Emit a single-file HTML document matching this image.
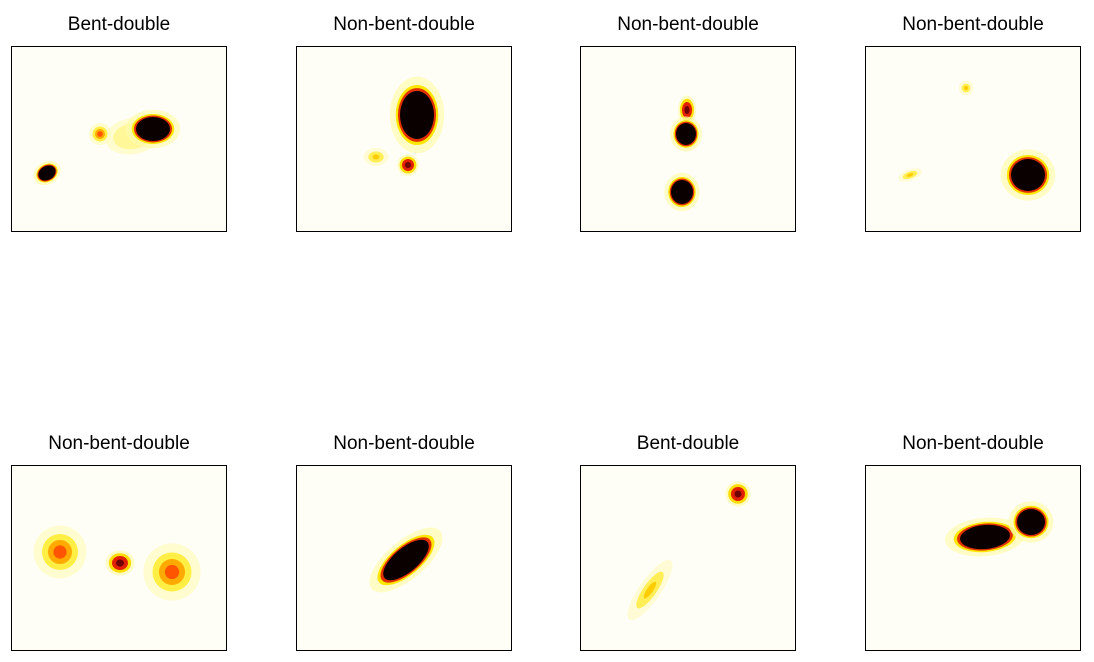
<!DOCTYPE html>
<html><head><meta charset="utf-8"><style>
body{margin:0;background:#fff;width:1094px;height:662px;overflow:hidden}
svg{display:block}
text{font-family:"Liberation Sans",sans-serif;font-size:19px;fill:#000}
</style></head><body>
<svg id="fig" width="1094" height="662"></svg>
<script>
const titles=["Bent-double","Non-bent-double","Non-bent-double","Non-bent-double","Non-bent-double","Non-bent-double","Bent-double","Non-bent-double"];
const panelX=[11,296,580,865,11,296,580,865];
const panelY=[46,46,46,46,465,465,465,465];
// blobs per panel: [cx, cy, rx, ry, rotation, level]
const blobs=[
 [[122,90,20,13,-10,"halo"],[142,83,17,12,0,"core"],[36,127,9,7,-30,"core"],[89,88,5,5,0,"orange"]],
 [[121,69,17,24,0,"core"],[112,119,6,6,0,"red"],[80,111,7,5,0,"yellow"]],
 [[107,64,5,8,0,"red"],[106,88,10,11,0,"core"],[102,146,11,12,0,"core"]],
 [[163,129,17,16,0,"core"],[101,42,4,4,0,"yellow"],[45,129,7,3,-20,"yellow"]],
 [[49,87,12,12,0,"orange"],[109,98,8,7,0,"red"],[161,107,13,13,0,"orange"]],
 [[110,95,28,12,-40,"core"]],
 [[158,29,7,7,0,"red"],[70,125,6,20,35,"yellow"]],
 [[120,72,25,12,-5,"core"],[166,57,14,13,0,"core"]]
];
const PW=216,PH=186;
const ns="http://www.w3.org/2000/svg";
const svg=document.getElementById('fig');
const levels={
 core:[[1.6,"#fffbb0",0.7],[1.25,"#ffe600",1],[1.12,"#e03000",1],[1.0,"#0a0000",1]],
 red:[[1.8,"#fffbb0",0.7],[1.4,"#ffdd00",1],[1.0,"#e02000",1],[0.5,"#700000",1]],
 orange:[[2.2,"#fffbc0",0.7],[1.5,"#ffee44",1],[1.0,"#ffaa00",1],[0.55,"#ff5500",1]],
 yellow:[[1.8,"#fffbc8",0.7],[1.1,"#ffee55",1],[0.5,"#ffcc00",1]],
 halo:[[1.4,"#fffcc0",0.7],[1.0,"#fff380",0.7]]
};
for(let i=0;i<8;i++){
 const g=document.createElementNS(ns,'g');
 
 
 g.setAttribute('transform',`translate(${panelX[i]},${panelY[i]})`);
 const cp=document.createElementNS(ns,'clipPath');cp.id='c'+i;
 const cr=document.createElementNS(ns,'rect');cr.setAttribute('width',PW);cr.setAttribute('height',PH);cp.appendChild(cr);g.appendChild(cp);
 const bg=document.createElementNS(ns,'rect');
 
 
 bg.setAttribute('width',PW);bg.setAttribute('height',PH);bg.setAttribute('fill','#fffef6');g.appendChild(bg);
 const inner=document.createElementNS(ns,'g');inner.setAttribute('clip-path',`url(#c${i})`);
 blobs[i].forEach(b=>{
  const [cx,cy,rx,ry,rot,lv]=b;
  levels[lv].forEach(([s,c,o])=>{
   const e=document.createElementNS(ns,'ellipse');
   
   
   e.setAttribute('cx',cx);e.setAttribute('cy',cy);e.setAttribute('rx',rx*s);e.setAttribute('ry',ry*s);
   e.setAttribute('transform',`rotate(${rot} ${cx} ${cy})`);
   e.setAttribute('fill',c);e.setAttribute('opacity',o);
   inner.appendChild(e);
  });
 });
 g.appendChild(inner);
 const fr=document.createElementNS(ns,'rect');
 
 
 fr.setAttribute('x',0.5);fr.setAttribute('y',0.5);fr.setAttribute('width',PW-1);fr.setAttribute('height',PH-1);
 fr.setAttribute('fill','none');fr.setAttribute('stroke','#000');fr.setAttribute('stroke-width',1);
 g.appendChild(fr);
 const t=document.createElementNS(ns,'text');
 
 
 t.setAttribute('x',PW/2);t.setAttribute('y',-16);t.setAttribute('text-anchor','middle');
 t.textContent=titles[i];g.appendChild(t);
 svg.appendChild(g);
}
</script>
</body></html>
